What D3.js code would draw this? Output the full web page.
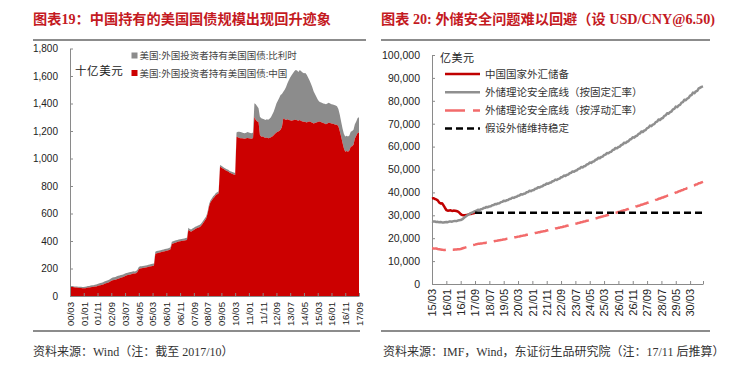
<!DOCTYPE html>
<html><head><meta charset="utf-8">
<script src="https://cdn.jsdelivr.net/npm/d3@7"></script>
<style>
body{margin:0;background:#fff;}
svg{display:block;}
</style></head>
<body><svg id="c" width="736" height="374"></svg>
<script>
// ---------- LEFT CHART DATA (monthly, 2000/03 .. 2017/09, billion USD) ----------
const leftLabels = ["00/03","01/01","01/11","02/09","03/07","04/05","05/03","06/01","06/11","07/09","08/07","09/05","10/03","11/01","11/11","12/09","13/07","14/05","15/03","16/01","16/11","17/09"];
const leftYTicks = [0,200,400,600,800,1000,1200,1400,1600,1800];
const chinaHold = [
68,66,65,63,62,61,60,59,58,57,56,
57,59,61,62,64,66,67,69,70,73,
76,79,80,84,88,92,95,99,103,111,
114,117,119,122,126,129,132,136,139,145,
150,152,155,157,160,163,163,165,175,195,
200,201,203,205,207,209,212,214,217,219,222,
305,311,313,316,318,321,324,326,329,331,335,340,
378,382,385,390,393,396,398,400,402,404,406,408,
480,472,468,475,480,488,492,496,500,508,520,535,550,565,600,650,680,695,710,720,735,740,747,
940,935,928,921,915,910,905,897,892,888,884,880,
1159,1155,1150,1147,1147,1145,1143,1147,1150,1147,1145,1143,1150,
1304,1280,1270,1265,
1171,1159,1160,1155,1150,1152,1148,1150,1155,1160,1170,1180,1190,1195,1200,1210,1230,
1292,1285,1280,1285,1280,1278,1275,1278,1280,1282,1278,1275,1280,1272,1270,1268,1265,1262,1268,1270,
1265,1260,1255,1258,1262,1265,1270,1268,1262,1258,1255,1250,1255,1260,1258,1255,1252,1250,1245,1245,
1235,1200,1160,1115,1075,1050,1055,1050,1058,1085,1090,1100,1145,1165,1185,1190];
const belgiumHold = [
6,6,7,7,8,8,8,9,9,9,10,10,10,11,11,12,12,12,13,13,
14,15,15,16,16,17,17,18,18,19,
19,20,20,20,21,21,20,20,19,19,
19,18,18,18,17,17,17,16,16,16,
16,16,16,15,15,15,15,15,15,15,
15,15,16,16,16,15,15,15,15,15,
15,15,15,15,16,16,16,15,15,15,
15,15,15,15,15,15,16,16,16,16,
16,16,16,16,16,16,16,16,15,15,
15,15,15,15,15,15,15,15,15,
12,12,12,12,12,12,13,13,13,14,14,15,
31,40,45,45,43,40,40,41,42,43,40,40,40,
97,115,110,100,
133,133,130,130,130,133,134,140,145,160,170,190,210,225,240,252,240,
194,215,240,262,290,312,330,342,355,362,362,355,364,363,355,352,357,348,322,300,
280,260,235,212,188,165,145,142,143,142,143,145,145,145,142,140,140,140,140,135,
125,120,110,105,105,110,110,110,110,110,110,110,105,105,110,110];
const leftLegend = ["美国:外国投资者持有美国国债:比利时","美国:外国投资者持有美国国债:中国"];

// ---------- RIGHT CHART DATA (monthly, 2015/03 .. 2030/12, 100 million USD) ----------
const rightLabels = ["15/03","16/01","16/11","17/09","18/07","19/05","20/03","21/01","21/11","22/09","23/07","24/05","25/03","26/01","26/11","27/09","28/07","29/05","30/03"];
const rightYTicks = [0,10000,20000,30000,40000,50000,60000,70000,80000,90000,100000];
const reserves = [37300,37481,37111,36938,36513,35574,35141,35255,34383,33304,32309,32023,32126,32197,31917,32052,32011,31851,31664,31206,30516,30105,29982,30051,30091,30295,30535,30568,30807,30915,31085,31092];
const floorFixed = [
27400,27250,27300,27100,27150,26950,27050,26900,26850,27000,27100,27000,27250,27300,27200,27450,27550,27450,27700,27800,27900,28200,28700,29200,29700,30100,30550,30900,31200,31500,31800,32000,
32414,32310,32620,32725,33140,33240, 33666,33560,33880,33985,34410,34520, 34966,34855,35190,35300,35745,35860,
36320,36205,36550,36665,37125,37240, 37720,37600,37960,38080,38560,38680, 39176,39052,39424,39548,40044,40170,
40686,40557,40944,41073,41589,41720, 42260,42125,42530,42665,43205,43340, 43896,43757,44174,44313,44869,45010,
45590,45445,45880,46025,46605,46750, 47350,47200,47650,47800,48400,48550, 49176,49020,49490,49645,50270,50430,
51076,50915,51400,51560,52207,52370, 53046,52877,53384,53553,54229,54400, 55100,54925,55450,55625,56325,56500,
57226,57045,57590,57770,58497,58680, 59434,59245,59811,59999,60753,60940, 61726,61530,62120,62316,63102,63300,
64114,63910,64520,64725,65539,65740, 66586,66375,67010,67220,68066,68280, 69156,68937,69594,69813,70689,70910,
71824,71595,72281,72510,73424,73650, 74600,74362,75075,75312,76262,76500, 77484,77238,77976,78222,79206,79450,
80474,80218,80986,81242,82266,82520, 83580,83315,84110,84375,85435,85700, 86100,86300];
const floorFloat = [
15600,15550,15450,15500,15300,15200,15100,15000,14900,14850,14950,15000,14950,15000,15050,15000,15100,15050,15150,15200,15300,15500,15700,15900,16100,16300,16500,16700,16900,17050,17200,17400,
17525,17567,17692,17733,17858,17900, 18075,18133,18308,18367,18542,18600, 18775,18833,19008,19067,19242,19300,
19475,19533,19708,19767,19942,20000, 20188,20250,20438,20500,20688,20750, 20950,21017,21217,21283,21483,21550,
21750,21817,22017,22083,22283,22350, 22550,22617,22817,22883,23083,23150, 23363,23433,23646,23717,23929,24000,
24225,24300,24525,24600,24825,24900, 25125,25200,25425,25500,25725,25800, 26038,26117,26354,26433,26671,26750,
27000,27083,27333,27417,27667,27750, 28000,28083,28333,28417,28667,28750, 29013,29100,29363,29450,29713,29800,
30063,30150,30413,30500,30763,30850, 31125,31217,31492,31583,31858,31950, 32238,32333,32621,32717,33004,33100,
33400,33500,33800,33900,34200,34300, 34613,34717,35029,35133,35446,35550, 35875,35983,36308,36417,36742,36850,
37188,37300,37638,37750,38088,38200, 38550,38667,39017,39133,39483,39600, 39963,40083,40446,40567,40929,41050,
41425,41550,41925,42050,42425,42550, 42938,43067,43454,43583,43971,44100, 44350,44600];
const holdLevel = 31092;      // reserves held stable after 17/10
const holdStart = 30, rightLastIndex = 189;
const rightLegend = ["中国国家外汇储备","外储理论安全底线（按固定汇率）","外储理论安全底线（按浮动汇率）","假设外储维持稳定"];

// ---------- DRAW ----------
const svg = d3.select("#c");
svg.append("rect").attr("width",736).attr("height",374).attr("fill","#fff");
const CJK = "'Liberation Serif','Noto Sans CJK SC',serif";
const SANS = "'Liberation Sans',Arial,sans-serif";
const TITLE_RED = "#C41A1F";

// Titles, rules, sources
svg.append("text").attr("x",33).attr("y",23.5).attr("fill",TITLE_RED).attr("font-family",CJK)
  .attr("font-size",14.2).attr("font-weight","bold").text("图表19：中国持有的美国国债规模出现回升迹象");
svg.append("text").attr("x",381).attr("y",23.5).attr("fill",TITLE_RED).attr("font-family",CJK)
  .attr("font-size",14.2).attr("font-weight","bold").text("图表 20: 外储安全问题难以回避（设 USD/CNY@6.50)");
[[33,366,40],[381,710,40],[33,360,331],[381,710,331]].forEach(([a,b,y])=>{
  svg.append("line").attr("x1",a).attr("x2",b).attr("y1",y).attr("y2",y).attr("stroke","#666").attr("stroke-width",1.3);
});
svg.append("text").attr("x",33).attr("y",356).attr("fill","#333").attr("font-family",CJK).attr("font-size",12)
  .text("资料来源：Wind（注：截至 2017/10）");
svg.append("text").attr("x",383).attr("y",356).attr("fill","#333").attr("font-family",CJK).attr("font-size",12)
  .text("资料来源：IMF，Wind，东证衍生品研究院（注：17/11 后推算）");

// ---- Left chart ----
const nL = (leftLabels.length-1)*10;
const xL = d3.scaleLinear().domain([0,nL]).range([70,359]);
const yL = d3.scaleLinear().domain([0,1800]).range([296,48.5]);
const leftRows = chinaHold.map((c,i)=>({i, c, b: belgiumHold[i]||0}));
const gL = svg.append("g");
gL.append("path").datum(leftRows).attr("fill","#8C8C8C")
  .attr("d", d3.area().x(d=>xL(d.i)).y0(d=>yL(d.c)).y1(d=>yL(d.c+d.b)));
gL.append("path").datum(leftRows).attr("fill","#CC0000")
  .attr("d", d3.area().x(d=>xL(d.i)).y0(yL(0)).y1(d=>yL(d.c)));

const axL = gL.append("g").attr("transform","translate(70,0)")
  .call(d3.axisLeft(yL).tickValues(leftYTicks).tickFormat(d3.format(",")).tickSizeInner(-3).tickSizeOuter(0).tickPadding(12));
const axLx = gL.append("g").attr("transform","translate(0,296)")
  .call(d3.axisBottom(xL).tickValues(d3.range(0,nL+1,10)).tickFormat(i=>leftLabels[i/10]).tickSizeInner(-3).tickSizeOuter(0));
axLx.selectAll("text").attr("transform","rotate(-90)").attr("x",-6).attr("y",0).attr("dy","0.35em").attr("text-anchor","end");
[axL,axLx].forEach(a=>{
  a.select(".domain").attr("stroke","#8a8a8a");
  a.selectAll(".tick line").attr("stroke","#8a8a8a");
});
axL.selectAll("text").attr("font-family",SANS).attr("font-size",10).attr("fill","#222");
axLx.selectAll("text").attr("font-family",SANS).attr("font-size",9.6).attr("fill","#222");

gL.append("text").attr("x",75).attr("y",74.5).attr("font-family",CJK).attr("font-size",11.5).attr("letter-spacing",0.6).attr("fill","#222").text("十亿美元");
const legColL = ["#8C8C8C","#CC0000"];
leftLegend.forEach((t,k)=>{
  const y = 56 + k*17.5;
  gL.append("rect").attr("x",131.5).attr("y",y-3.5).attr("width",6).attr("height",6).attr("fill",legColL[k]);
  gL.append("text").attr("x",139.5).attr("y",y).attr("dy","0.35em").attr("font-family",CJK).attr("font-size",9.5).attr("fill","#444").text(t);
});

// ---- Right chart ----
const xR = d3.scaleLinear().domain([0,rightLastIndex]).range([432,703]);
const yR = d3.scaleLinear().domain([0,100000]).range([284,55]);
const gR = svg.append("g");
const axR = gR.append("g").attr("transform","translate(432,0)")
  .call(d3.axisLeft(yR).tickValues(rightYTicks).tickFormat(d3.format(",")).tickSizeInner(-3).tickSizeOuter(0).tickPadding(12));
const rTicks = d3.range(0,(rightLabels.length-1)*10+1,10).concat([rightLastIndex]);
const axRx = gR.append("g").attr("transform","translate(0,284)")
  .call(d3.axisBottom(xR).tickValues(rTicks).tickFormat(i=> i%10===0 && rightLabels[i/10] ? rightLabels[i/10] : "").tickSizeInner(-3).tickSizeOuter(0));
axRx.selectAll("text").attr("transform","rotate(-90)").attr("x",-5).attr("y",0).attr("dy","0.35em").attr("text-anchor","end");
[axR,axRx].forEach(a=>{
  a.select(".domain").attr("stroke","#8a8a8a");
  a.selectAll(".tick line").attr("stroke","#8a8a8a");
});
axR.selectAll("text").attr("font-family",SANS).attr("font-size",10.5).attr("fill","#222");
axRx.selectAll("text").attr("font-family",SANS).attr("font-size",11).attr("fill","#222");

const line = d3.line().x(d=>xR(d[0])).y(d=>yR(d[1]));
const styles = [
  {color:"#C00000", dash:null},
  {color:"#8F8F8F", dash:null},
  {color:"#F26B6B", dash:"14,7"},
  {color:"#000000", dash:"7,4"}
];
const seriesPts = [
  reserves.map((v,i)=>[i,v]),
  floorFixed.map((v,i)=>[i,v]),
  floorFloat.map((v,i)=>[i,v]),
  [[holdStart,holdLevel],[rightLastIndex,holdLevel]]
];
seriesPts.forEach((pts,k)=>{
  gR.append("path").datum(pts).attr("fill","none").attr("stroke",styles[k].color).attr("stroke-width",2.5)
    .attr("stroke-dasharray",styles[k].dash).attr("stroke-linejoin","round").attr("d",line);
});

gR.append("text").attr("x",440).attr("y",58).attr("dy","0.35em").attr("font-family",CJK).attr("font-size",11).attr("letter-spacing",0.5).attr("fill","#222").text("亿美元");
const legY = [74,92.3,110.5,128.5];
rightLegend.forEach((t,k)=>{
  gR.append("line").attr("x1",445).attr("x2",480).attr("y1",legY[k]).attr("y2",legY[k])
    .attr("stroke",styles[k].color).attr("stroke-width",2.5).attr("stroke-dasharray",k===2?"20,8":styles[k].dash);
  gR.append("text").attr("x",485).attr("y",legY[k]).attr("dy","0.35em").attr("font-family",CJK).attr("font-size",10.5).attr("fill","#333").text(t);
});
</script></body></html>
